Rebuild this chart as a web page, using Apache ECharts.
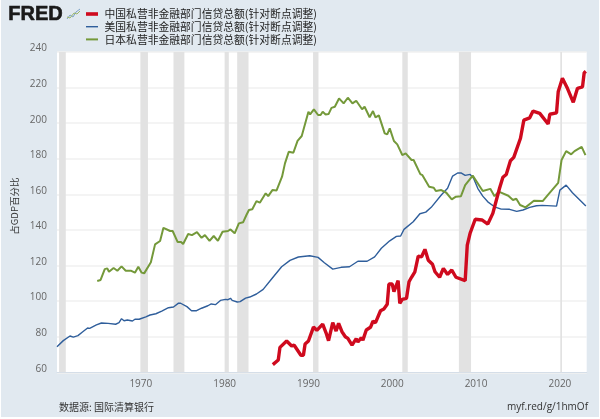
<!DOCTYPE html>
<html>
<head>
<meta charset="utf-8">
<style>
html, body { margin: 0; padding: 0; background: #fff; }
#chart { width: 600px; height: 419px; }
</style>
<script src="https://cdn.jsdelivr.net/npm/echarts@6/dist/echarts.min.js"></script>
</head>
<body>
<div id="chart"></div>
<script>
var cjkFont = '"Noto Sans CJK SC", "Open Sans", sans-serif';

var chinaName = '中国私营非金融部门信贷总额(针对断点调整)';
var usName = '美国私营非金融部门信贷总额(针对断点调整)';
var japanName = '日本私营非金融部门信贷总额(针对断点调整)';

// 衰退期 [起, 止]
var recessions = [
	[1960.25, 1961.05], [1969.95, 1970.85], [1973.9, 1975.2], [1980.0, 1980.5], [1981.5, 1982.85],
	[1990.55, 1991.2], [2001.2, 2001.85], [2007.95, 2009.4], [2020.05, 2020.25]
];

var china = [
	[1985.75,64.3],[1986.4,66.9],[1986.6,74.0],[1987.4,77.6],[1988.0,74.8],[1988.3,75.2],[1989.1,69.6],[1989.4,69.6],
	[1989.6,75.9],[1990.0,77.6],[1990.6,85.4],[1991.0,83.6],[1991.2,84.2],[1991.7,87.1],[1992.1,82.2],[1992.4,77.8],
	[1992.9,87.9],[1993.3,83.2],[1993.6,87.5],[1994.0,82.8],[1994.4,80.0],[1994.7,79.1],[1995.2,75.3],[1995.4,75.2],
	[1995.7,78.9],[1995.9,77.0],[1996.3,79.4],[1996.5,78.1],[1996.9,83.8],[1997.4,85.3],[1997.7,88.7],[1998.0,87.9],
	[1998.6,94.6],[1999.0,95.6],[1999.4,98.2],[1999.6,109.6],[2000.0,109.6],[2000.2,105.3],[2000.7,111.5],[2000.9,98.8],
	[2001.2,101.0],[2001.7,101.6],[2002.0,110.9],[2002.3,113.4],[2002.7,116.5],[2003.1,125.3],[2003.5,124.9],[2003.9,129.1],
	[2004.3,123.0],[2004.8,120.7],[2005.1,116.5],[2005.65,113.4],[2006.1,118.4],[2006.6,115.0],[2007.1,117.5],[2007.6,113.4],
	[2008.7,111.5],[2008.95,131.5],[2009.3,138.3],[2009.9,146.0],[2010.7,145.6],[2011.4,143.3],[2012.0,149.3],[2012.8,163.4],
	[2013.2,169.6],[2013.6,171.2],[2014.1,178.9],[2014.5,180.8],[2015.3,191.5],[2015.7,201.7],[2016.4,203.0],[2016.8,206.8],
	[2017.6,205.5],[2017.8,205.8],[2018.6,199.5],[2018.8,205.0],[2019.6,205.8],[2019.8,217.6],[2020.3,225.2],[2020.9,219.6],
	[2021.6,211.7],[2022.1,219.6],[2022.7,220.4],[2022.9,228.3],[2023.1,229.1]
];

var us = [
	[1960.0,74.4],[1960.75,77.8],[1961.55,80.4],[1961.95,79.8],[1962.5,80.6],[1963.0,82.5],[1963.65,84.9],[1963.9,84.7],
	[1964.7,86.6],[1965.3,87.7],[1966.1,87.5],[1967.0,87.0],[1967.4,87.9],[1967.7,90.1],[1968.0,89.0],[1968.4,89.4],
	[1969.0,88.8],[1969.3,89.8],[1969.8,89.8],[1970.6,91.2],[1971.1,92.2],[1971.8,92.9],[1972.5,94.4],[1973.3,96.3],
	[1973.9,96.7],[1974.5,98.9],[1974.75,98.8],[1975.5,96.9],[1976.05,94.6],[1976.65,94.6],[1977.25,96.0],[1978.0,97.4],
	[1978.4,98.4],[1978.9,98.0],[1979.5,100.4],[1980.1,101.0],[1980.4,100.8],[1980.7,101.6],[1980.9,100.4],[1981.5,99.5],
	[1981.85,99.7],[1982.5,101.7],[1983.0,102.3],[1983.8,104.0],[1984.6,106.6],[1985.6,112.4],[1986.8,119.3],[1987.8,122.9],
	[1988.8,124.8],[1990.15,125.5],[1991.15,124.6],[1991.9,121.6],[1992.9,118.0],[1993.9,119.0],[1994.9,119.3],[1995.9,122.4],
	[1997.0,122.4],[1997.9,124.9],[1998.7,129.7],[1999.7,133.9],[2000.5,136.4],[2001.0,136.6],[2001.4,140.3],[2002.5,144.6],
	[2003.3,149.1],[2004.0,150.0],[2004.65,152.7],[2005.85,159.6],[2006.6,163.4],[2007.2,170.3],[2007.8,172.0],[2008.2,172.1],
	[2008.7,170.7],[2009.3,171.2],[2009.7,169.0],[2010.2,163.4],[2010.8,159.0],[2011.4,155.8],[2012.2,153.0],[2013.0,151.7],
	[2014.0,151.6],[2014.85,150.4],[2015.6,151.2],[2016.4,152.7],[2017.2,153.6],[2017.9,153.8],[2019.6,153.4],[2020.0,162.4],
	[2020.75,165.2],[2021.5,160.9],[2023.1,153.4]
];

var japan = [
	[1964.8,111.3],[1965.2,111.9],[1965.7,118.0],[1966.0,118.4],[1966.2,116.5],[1966.75,118.6],[1967.2,117.1],[1967.7,119.5],
	[1968.2,117.1],[1968.8,117.1],[1969.3,116.0],[1969.7,119.3],[1970.1,116.0],[1970.4,115.6],[1971.2,121.8],[1971.7,131.9],
	[1972.3,133.8],[1972.7,141.2],[1973.5,139.4],[1973.8,139.4],[1974.4,133.2],[1974.8,133.2],[1975.05,132.1],[1975.65,137.7],
	[1976.1,137.1],[1976.7,138.8],[1977.25,135.6],[1977.65,137.1],[1978.2,133.8],[1978.7,136.6],[1979.2,133.9],[1979.75,139.0],
	[1980.4,139.4],[1980.7,140.3],[1981.2,138.1],[1981.7,143.7],[1982.2,144.3],[1982.6,148.4],[1982.9,151.2],[1983.3,151.6],
	[1983.8,156.2],[1984.2,155.3],[1984.9,160.6],[1985.2,159.0],[1985.7,162.4],[1986.2,162.2],[1986.85,169.9],[1987.2,177.4],
	[1987.65,183.9],[1988.2,183.4],[1988.7,190.1],[1989.2,192.8],[1990.0,206.4],[1990.2,204.9],[1990.65,207.8],[1991.15,204.6],
	[1991.45,204.6],[1991.7,206.4],[1992.05,204.9],[1992.4,205.1],[1992.75,208.6],[1993.15,209.2],[1993.65,213.9],[1994.2,211.1],
	[1994.7,214.3],[1995.25,211.1],[1995.7,212.6],[1996.4,207.8],[1996.7,209.2],[1997.3,203.3],[1997.5,202.7],[1997.7,206.8],
	[1998.0,203.3],[1998.4,204.4],[1999.1,194.3],[1999.4,193.7],[1999.7,197.1],[2000.2,190.0],[2000.6,188.1],[2001.2,182.1],
	[2001.6,183.0],[2002.3,179.3],[2002.55,179.3],[2003.35,171.4],[2003.6,170.8],[2004.4,164.3],[2004.95,163.7],[2005.2,161.9],
	[2005.85,162.4],[2006.45,160.9],[2007.1,157.2],[2007.6,158.7],[2008.2,159.0],[2008.7,165.2],[2009.6,170.5],[2010.8,161.9],
	[2011.7,163.1],[2012.2,159.0],[2012.7,161.5],[2013.85,159.2],[2014.4,156.8],[2014.8,157.5],[2015.25,154.0],[2015.9,152.7],
	[2016.9,156.4],[2017.95,156.2],[2018.55,159.6],[2019.8,166.5],[2020.2,179.3],[2020.75,184.3],[2021.35,182.5],[2021.75,184.3],
	[2022.6,186.7],[2023.05,182.0]
];

var chart = echarts.init(document.getElementById('chart'));

chart.setOption({
	animation: false,
	backgroundColor: '#fff',
	textStyle: { fontFamily: cjkFont },
	grid: {
		left: 57,
		right: 13.3,
		top: 52,
		bottom: 46.7,
		show: true,
		backgroundColor: '#fff',
		borderWidth: 0,
		outerBoundsMode: 'none'
	},
	legend: {
		orient: 'vertical',
		left: 86,
		top: 8,
		itemWidth: 13,
		itemHeight: 8,
		itemGap: 0.7,
		padding: 0,
		data: [
			// 图例线条粗细不同，上下多画两个空点把框撑满
			{ name: chinaName, icon: 'path://M0 0L0 0M0 2.2H12V5.8H0ZM0 8L0 8' },
			{ name: usName, icon: 'path://M0 0L0 0M0 3.3H12V4.7H0ZM0 8L0 8' },
			{ name: japanName, icon: 'path://M0 0L0 0M0 3H12V5H0ZM0 8L0 8' }
		],
		textStyle: { fontFamily: cjkFont, fontSize: 10.8, lineHeight: 12, color: '#222', padding: [0, 0, 0, 1] }
	},
	xAxis: {
		type: 'value',
		min: 1960,
		max: 2023.2,
		interval: 10,
		axisLine: { lineStyle: { color: '#d5dee8', width: 1 } },
		axisTick: { show: false },
		splitLine: { show: false },
		axisLabel: {
			color: '#666',
			fontSize: 10,
			fontFamily: '"Open Sans", sans-serif',
			margin: 7,
			showMaxLabel: false,
			formatter: function (v) {
				return v > 1960 && v % 10 === 0 ? String(v) : '';
			}
		}
	},
	yAxis: {
		type: 'value',
		min: 60,
		max: 240,
		interval: 20,
		name: '占GDP百分比',
		nameLocation: 'middle',
		nameRotate: 90,
		nameGap: 38,
		nameTextStyle: { fontFamily: cjkFont, fontSize: 9.5, color: '#333', padding: [0, 0, 0, 12] },
		axisLine: { show: false },
		axisTick: { show: false },
		splitLine: { lineStyle: { color: '#f0f0f0', width: 1.5 } },
		axisLabel: {
			color: '#666',
			fontSize: 10,
			fontFamily: '"Open Sans", sans-serif',
			margin: 10,
			verticalAlign: 'bottom',
			lineHeight: 7
		}
	},
	series: [
		{
			name: usName,
			type: 'line',
			data: us,
			z: 2,
			showSymbol: false,
			symbol: 'none',
			lineStyle: { color: '#2f5e9b', width: 1.4 },
			itemStyle: { color: '#2f5e9b' },
			markArea: {
				silent: true,
				itemStyle: { color: '#e2e2e2' },
				data: recessions.map(function (r) {
					return [{ xAxis: r[0] }, { xAxis: r[1] }];
				})
			}
		},
		{
			name: japanName,
			type: 'line',
			data: japan,
			z: 3,
			showSymbol: false,
			symbol: 'none',
			lineStyle: { color: '#74993a', width: 2 },
			itemStyle: { color: '#74993a' }
		},
		{
			name: chinaName,
			type: 'line',
			data: china,
			z: 4,
			showSymbol: false,
			symbol: 'none',
			lineStyle: { color: '#cf0a1e', width: 3.4 },
			itemStyle: { color: '#cf0a1e' }
		}
	],
	graphic: [
		// 背景
		{ type: 'rect', z: -10, silent: true, shape: { x: 1, y: 0, width: 598, height: 417 }, style: { fill: '#e1e9f0' } },
		// FRED 标志
		{ type: 'text', left: 8, top: 4, style: { text: 'FRED', fill: '#1a1a1a', stroke: '#1a1a1a', lineWidth: 0.6, font: 'bold 20px "Liberation Sans", sans-serif' } },
		{ type: 'polyline', silent: true, shape: { points: [[67, 19], [70, 15], [73, 17], [76, 12], [80, 9]] }, style: { stroke: '#7fa3c7', fill: null, lineWidth: 1 } },
		{ type: 'polyline', silent: true, shape: { points: [[67, 17], [70, 18], [74, 13], [77, 14], [80, 11]] }, style: { stroke: '#9ab56a', fill: null, lineWidth: 1 } },
		// 来源
		{ type: 'text', left: 59, top: 402.5, style: { text: '数据源: 国际清算银行', fill: '#333', font: '10px "Noto Sans CJK SC", sans-serif' } },
		{ type: 'text', right: 12, top: 402.5, style: { text: 'myf.red/g/1hmOf', fill: '#333', font: '10px "Open Sans", sans-serif' } }
	]
});
</script>
</body>
</html>
